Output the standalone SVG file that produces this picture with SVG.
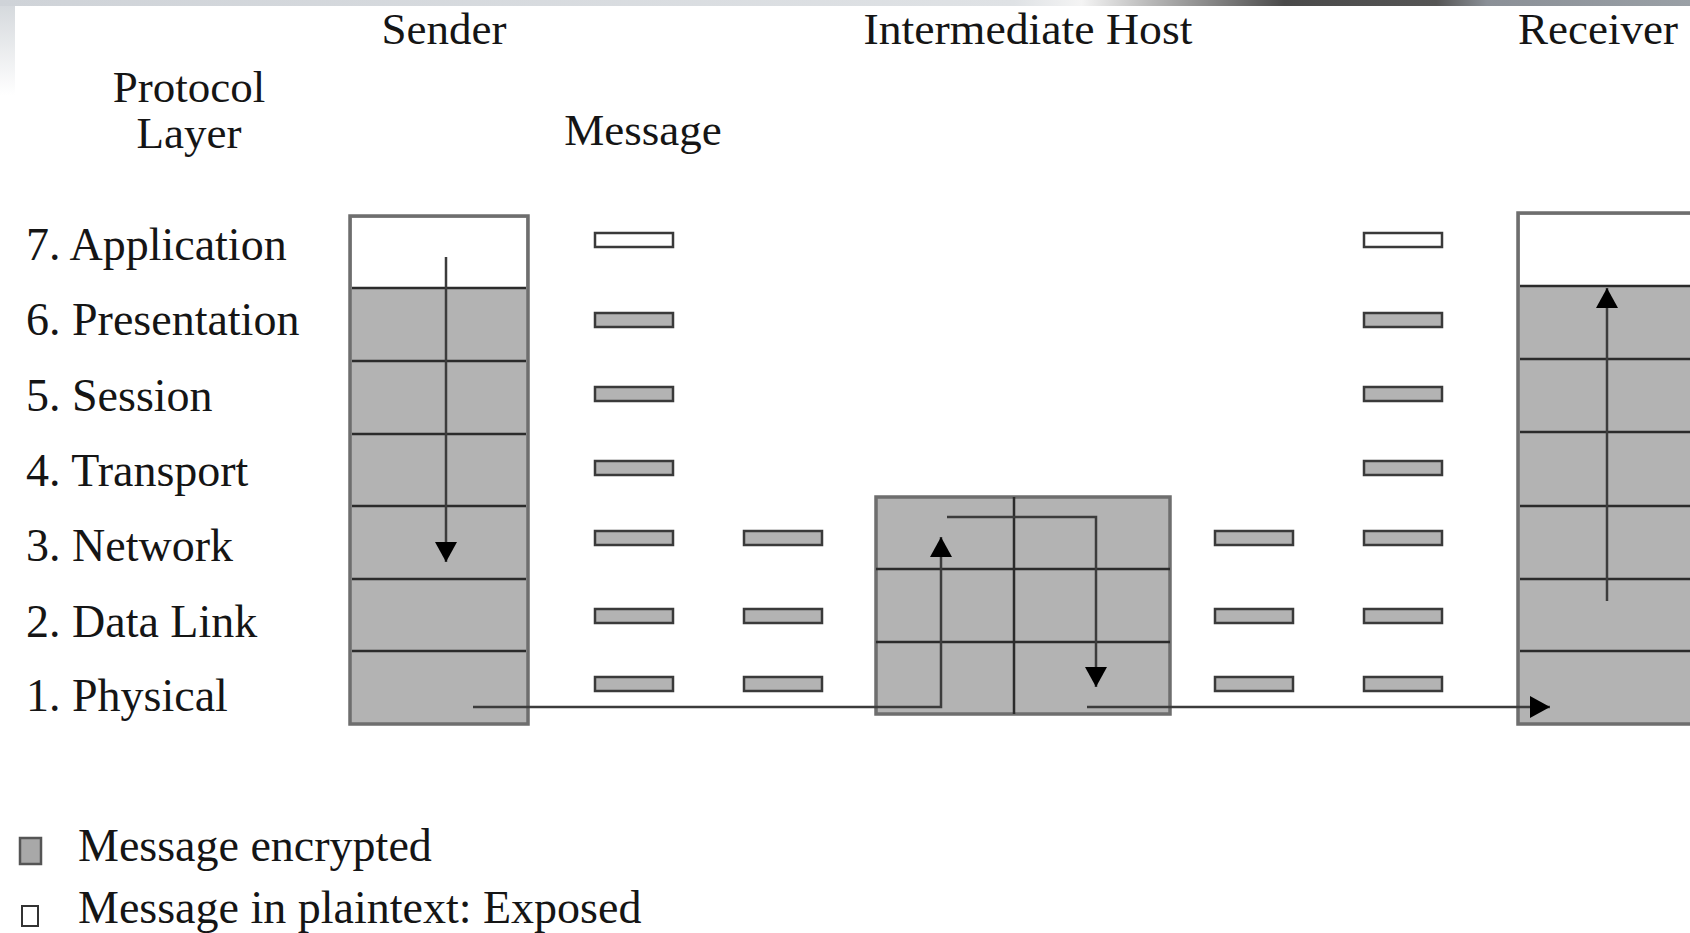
<svg xmlns="http://www.w3.org/2000/svg" width="1690" height="933" viewBox="0 0 1690 933">
  <defs>
    <linearGradient id="topband" x1="0" y1="0" x2="1" y2="0">
      <stop offset="0" stop-color="#cfd3d8"/>
      <stop offset="0.6" stop-color="#dfe2e5"/>
      <stop offset="0.64" stop-color="#f4f4f4"/>
      <stop offset="0.68" stop-color="#b9b9b9"/>
      <stop offset="0.76" stop-color="#4a4a4a"/>
      <stop offset="0.85" stop-color="#555"/>
      <stop offset="0.88" stop-color="#8b9097"/>
      <stop offset="1" stop-color="#9aa0a6"/>
    </linearGradient>
    <linearGradient id="leftband" x1="0" y1="0" x2="0" y2="1">
      <stop offset="0" stop-color="#d3d7db"/>
      <stop offset="1" stop-color="#ffffff"/>
    </linearGradient>
    <marker id="ah" markerUnits="userSpaceOnUse" markerWidth="22" markerHeight="22" viewBox="0 0 20 22" refX="20" refY="11" orient="auto">
      <path d="M0,0 L20,11 L0,22 z" fill="#000"/>
    </marker>
    <style>
      .t { font-family: "Liberation Serif", "Times New Roman", serif; fill: #151515; }
      .h { font-size: 45px; }
      .l { font-size: 46px; }
      .enc { fill: #b3b3b3; stroke: #3a3a3a; stroke-width: 2.5; }
      .plain { fill: #ffffff; stroke: #3a3a3a; stroke-width: 2.5; }
      .stack { fill: #b3b3b3; stroke: #6e6e6e; stroke-width: 3.5; }
      .top { fill: #ffffff; }
      .div { stroke: #2b2b2b; stroke-width: 2.5; }
      .conn { fill: none; stroke: #3c3c3c; stroke-width: 2.5; }
    </style>
  </defs>

  <rect x="0" y="0" width="1690" height="933" fill="#ffffff"/>
  <rect x="0" y="0" width="15" height="95" fill="url(#leftband)"/>
  <rect x="0" y="0" width="1690" height="6" fill="url(#topband)"/>

  <!-- headers -->
  <g id="headers">
    <text class="t h" x="444" y="44" text-anchor="middle">Sender</text>
    <text class="t h" x="1028" y="44" text-anchor="middle" textLength="329" lengthAdjust="spacingAndGlyphs">Intermediate Host</text>
    <text class="t h" x="1518" y="44">Receiver</text>
    <text class="t h" x="189" y="102" text-anchor="middle">Protocol</text>
    <text class="t h" x="189" y="148" text-anchor="middle">Layer</text>
    <text class="t h" x="643" y="145" text-anchor="middle">Message</text>
  </g>

  <!-- layer labels -->
  <g id="labels">
    <text class="t l" x="26" y="260">7. Application</text>
    <text class="t l" x="26" y="335">6. Presentation</text>
    <text class="t l" x="26" y="411">5. Session</text>
    <text class="t l" x="26" y="486">4. Transport</text>
    <text class="t l" x="26" y="561">3. Network</text>
    <text class="t l" x="26" y="637">2. Data Link</text>
    <text class="t l" x="26" y="711">1. Physical</text>
  </g>

  <!-- sender stack -->
  <g id="sender">
    <rect class="stack" x="350" y="216" width="178" height="508"/>
    <rect class="top" x="352" y="218" width="174" height="70"/>
    <line class="div" x1="352" y1="288" x2="526" y2="288"/>
    <line class="div" x1="352" y1="361" x2="526" y2="361"/>
    <line class="div" x1="352" y1="434" x2="526" y2="434"/>
    <line class="div" x1="352" y1="506" x2="526" y2="506"/>
    <line class="div" x1="352" y1="579" x2="526" y2="579"/>
    <line class="div" x1="352" y1="651" x2="526" y2="651"/>
  </g>

  <!-- intermediate host -->
  <g id="intermediate">
    <rect class="stack" x="876" y="497" width="294" height="217"/>
    <line class="div" x1="876" y1="569" x2="1170" y2="569"/>
    <line class="div" x1="876" y1="642" x2="1170" y2="642"/>
    <line class="div" x1="1014" y1="497" x2="1014" y2="714"/>
  </g>

  <!-- receiver stack -->
  <g id="receiver">
    <rect class="stack" x="1518" y="213" width="200" height="511"/>
    <rect class="top" x="1520" y="215" width="172" height="71"/>
    <line class="div" x1="1520" y1="286" x2="1690" y2="286"/>
    <line class="div" x1="1520" y1="359" x2="1690" y2="359"/>
    <line class="div" x1="1520" y1="432" x2="1690" y2="432"/>
    <line class="div" x1="1520" y1="506" x2="1690" y2="506"/>
    <line class="div" x1="1520" y1="579" x2="1690" y2="579"/>
    <line class="div" x1="1520" y1="651" x2="1690" y2="651"/>
  </g>

  <!-- message bars -->
  <g id="messages-col1">
    <rect class="plain" x="595" y="233" width="78" height="14"/>
    <rect class="enc" x="595" y="313" width="78" height="14"/>
    <rect class="enc" x="595" y="387" width="78" height="14"/>
    <rect class="enc" x="595" y="461" width="78" height="14"/>
    <rect class="enc" x="595" y="531" width="78" height="14"/>
    <rect class="enc" x="595" y="609" width="78" height="14"/>
    <rect class="enc" x="595" y="677" width="78" height="14"/>
  </g>
  <g id="messages-col2">
    <rect class="enc" x="744" y="531" width="78" height="14"/>
    <rect class="enc" x="744" y="609" width="78" height="14"/>
    <rect class="enc" x="744" y="677" width="78" height="14"/>
  </g>
  <g id="messages-col3">
    <rect class="enc" x="1215" y="531" width="78" height="14"/>
    <rect class="enc" x="1215" y="609" width="78" height="14"/>
    <rect class="enc" x="1215" y="677" width="78" height="14"/>
  </g>
  <g id="messages-col4">
    <rect class="plain" x="1364" y="233" width="78" height="14"/>
    <rect class="enc" x="1364" y="313" width="78" height="14"/>
    <rect class="enc" x="1364" y="387" width="78" height="14"/>
    <rect class="enc" x="1364" y="461" width="78" height="14"/>
    <rect class="enc" x="1364" y="531" width="78" height="14"/>
    <rect class="enc" x="1364" y="609" width="78" height="14"/>
    <rect class="enc" x="1364" y="677" width="78" height="14"/>
  </g>

  <!-- connectors -->
  <g id="connectors">
    <path class="conn" d="M446,257 L446,562" marker-end="url(#ah)"/>
    <path class="conn" d="M473,707 L941,707 L941,537" marker-end="url(#ah)"/>
    <path class="conn" d="M947,517 L1096,517 L1096,687" marker-end="url(#ah)"/>
    <path class="conn" d="M1087,707 L1550,707" marker-end="url(#ah)"/>
    <path class="conn" d="M1607,601 L1607,288" marker-end="url(#ah)"/>
  </g>

  <!-- legend -->
  <g id="legend">
    <rect x="20" y="838" width="21" height="26" fill="#a8a8a8" stroke="#555" stroke-width="2.5"/>
    <text class="t l" x="78" y="861">Message encrypted</text>
    <rect x="22" y="906" width="16" height="20" fill="#ffffff" stroke="#333" stroke-width="2"/>
    <text class="t l" x="78" y="923">Message in plaintext: Exposed</text>
  </g>
</svg>
